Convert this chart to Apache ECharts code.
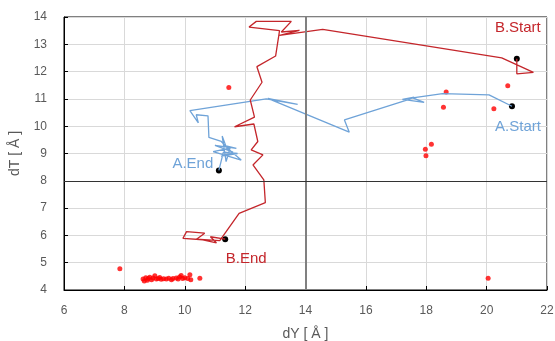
<!DOCTYPE html>
<html>
<head>
<meta charset="utf-8">
<script src="https://cdn.jsdelivr.net/npm/echarts@6/dist/echarts.min.js"></script>
<style>
  html, body { margin: 0; padding: 0; background: #fff; }
  #chart { width: 555px; height: 341px; }
</style>
</head>
<body>
<div id="chart"></div>
<script>
// trajectory A (blue), from A.Start to A.End
var pathA = [
    [20.84, 10.73], [20.08, 11.15], [18.54, 11.19], [17.55, 11.04], [17.93, 10.87],
    [17.21, 10.98], [17.6, 11.06], [17.38, 10.96], [15.29, 10.23], [15.45, 9.78],
    [12.75, 11.02], [13.74, 10.80], [12.7, 11.0], [10.17, 10.57], [10.45, 10.12],
    [10.38, 10.42], [10.77, 10.38], [10.80, 9.59], [11.21, 9.44], [11.37, 9.25],
    [11.24, 9.64], [11.37, 8.70], [11.5, 9.2], [10.94, 9.07], [11.87, 8.76],
    [11.3, 9.3], [11.71, 9.19], [11.0, 9.3], [11.6, 9.05], [11.2, 8.9],
    [11.75, 9.0], [11.28, 9.05], [11.13, 8.38]
];

// trajectory B (red), from B.Start to B.End
var pathB = [
    [21.0, 12.47], [21.0, 11.92], [21.55, 11.97], [20.5, 12.5], [14.57, 13.55],
    [13.14, 13.33], [13.80, 13.51], [13.20, 13.45], [13.53, 13.84], [12.37, 13.84],
    [12.13, 13.63], [13.14, 13.5], [13.01, 12.57], [12.39, 12.18], [12.56, 11.61],
    [12.17, 10.96], [12.31, 10.33], [11.65, 9.98], [12.29, 10.08], [12.42, 9.44],
    [12.20, 9.13], [12.59, 8.95], [12.26, 8.58], [12.62, 8.03], [12.67, 7.2],
    [11.80, 6.81], [11.16, 5.81], [10.39, 5.86], [10.66, 6.08], [10.06, 6.14],
    [9.94, 5.89], [10.6, 5.84], [11.05, 5.73], [10.85, 5.95], [11.34, 5.86]
];

// red scatter points
var redPoints = [
    [11.46, 11.42], [18.66, 11.25], [18.57, 10.69], [20.70, 11.48], [20.24, 10.64],
    [18.17, 9.34], [17.97, 9.16], [17.99, 8.92], [20.05, 4.43], [7.85, 4.78],
    [8.62, 4.40], [8.66, 4.33], [8.71, 4.45], [8.76, 4.36], [8.79, 4.42],
    [8.84, 4.47], [8.90, 4.38], [8.95, 4.44], [9.01, 4.52], [9.06, 4.40],
    [9.12, 4.42], [9.17, 4.46], [9.22, 4.39], [9.30, 4.41], [9.39, 4.40],
    [9.47, 4.43], [9.56, 4.38], [9.61, 4.42], [9.72, 4.44], [9.78, 4.40],
    [9.83, 4.48], [9.88, 4.53], [9.93, 4.42], [10.0, 4.45], [10.1, 4.42],
    [10.17, 4.56], [10.2, 4.38], [10.50, 4.43]
];

// start / end markers
var endPointNames = ['B.Start', 'A.Start', 'A.End', 'B.End'];
var endPointValues = [[21.0, 12.47], [20.84, 10.73], [11.13, 8.38], [11.34, 5.86]];

var redColor = '#c4262b';
var blueColor = '#6fa3d8';
var labelSetup = {
    'B.Start': { color: redColor, offset: [1, -31] },
    'A.Start': { color: blueColor, offset: [6, 21] },
    'A.End': { color: blueColor, offset: [-26, -7] },
    'B.End': { color: redColor, offset: [21, 20] }
};

var endPointData = endPointValues.map(function (v, i) {
    var name = endPointNames[i];
    return {
        name: name,
        value: v,
        label: {
            show: true,
            formatter: name,
            position: 'inside',
            offset: labelSetup[name].offset,
            color: labelSetup[name].color,
            fontSize: 15,
            fontFamily: 'Liberation Sans, sans-serif'
        }
    };
});

var chart = echarts.init(document.getElementById('chart'));
var option = {
    animation: false,
    grid: {
        left: 64, right: 8, top: 17, bottom: 51,
        outerBoundsMode: 'none',
        containLabel: false,
        show: true, borderColor: '#000', borderWidth: 1
    },
    xAxis: {
        type: 'value', min: 6, max: 22, interval: 2,
        name: 'dY [ Å ]', nameLocation: 'middle', nameGap: 37,
        nameTextStyle: { color: '#595959', fontSize: 14 },
        axisLine: { lineStyle: { color: '#000' } },
        axisTick: { show: true, inside: true, length: 4, lineStyle: { color: '#000' } },
        axisLabel: { color: '#595959', fontSize: 12, margin: 15 },
        splitLine: { lineStyle: { color: '#d9d9d9' } }
    },
    yAxis: {
        type: 'value', min: 4, max: 14, interval: 1,
        name: 'dT [ Å ]', nameLocation: 'middle', nameGap: 42,
        nameTextStyle: { color: '#595959', fontSize: 14 },
        axisLine: { lineStyle: { color: '#000' } },
        axisTick: { show: true, inside: true, length: 4, lineStyle: { color: '#000' } },
        axisLabel: { color: '#595959', fontSize: 12, margin: 17 },
        splitLine: { lineStyle: { color: '#d9d9d9' } }
    },
    series: [
        {
            name: 'cross', type: 'line', data: [], silent: true,
            markLine: {
                silent: true, symbol: 'none', label: { show: false },
                data: [
                    { xAxis: 14, lineStyle: { color: '#808080', width: 2, type: 'solid' } },
                    { yAxis: 8, lineStyle: { color: '#333', width: 1, type: 'solid' } }
                ]
            }
        },
        {
            name: 'A', type: 'line', data: pathA, showSymbol: false,
            lineStyle: { color: blueColor, width: 1.3 }
        },
        {
            name: 'B', type: 'line', data: pathB, showSymbol: false,
            lineStyle: { color: redColor, width: 1.3 }
        },
        {
            name: 'points', type: 'scatter', data: redPoints,
            symbolSize: 5, itemStyle: { color: '#ff0000' }
        },
        {
            name: 'ends', type: 'scatter', data: endPointData,
            symbolSize: 6, itemStyle: { color: '#000', opacity: 1 }
        }
    ]
};
chart.setOption(option);
</script>
</body>
</html>
